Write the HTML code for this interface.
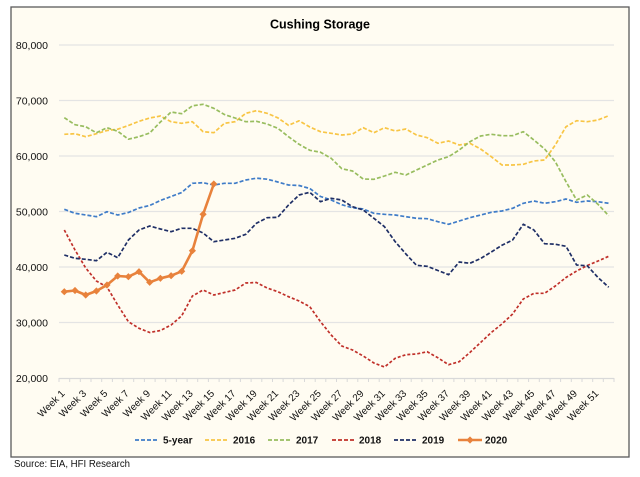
<!DOCTYPE html>
<html><head><meta charset="utf-8"><style>
html,body{margin:0;padding:0;background:#fff;}
svg{display:block;}
text{font-family:"Liberation Sans",sans-serif;}
</style></head><body>
<svg width="640" height="477" viewBox="0 0 640 477" xmlns="http://www.w3.org/2000/svg">
<rect x="0" y="0" width="640" height="477" fill="#fff"/>
<rect x="11" y="7" width="618" height="450" fill="#FFFCF2" stroke="#5a5a5a" stroke-width="1.3"/>
<text x="320" y="28.5" text-anchor="middle" font-size="12.5" font-weight="bold" fill="#000">Cushing Storage</text>
<g stroke="#E4E4E4" stroke-width="1.3">
<line x1="59" y1="45" x2="614" y2="45"/>
<line x1="59" y1="100.5" x2="614" y2="100.5"/>
<line x1="59" y1="156" x2="614" y2="156"/>
<line x1="59" y1="211.5" x2="614" y2="211.5"/>
<line x1="59" y1="267" x2="614" y2="267"/>
<line x1="59" y1="322.5" x2="614" y2="322.5"/>
</g>
<line x1="59" y1="378.5" x2="614" y2="378.5" stroke="#D9D9D9" stroke-width="1.3"/>
<g stroke="#D9D9D9" stroke-width="1">
<path d="M59,378v4M69.7,378v4M80.3,378v4M91,378v4M101.7,378v4M112.4,378v4M123,378v4M133.7,378v4M144.4,378v4M155.1,378v4M165.7,378v4M176.4,378v4M187.1,378v4M197.7,378v4M208.4,378v4M219.1,378v4M229.8,378v4M240.4,378v4M251.1,378v4M261.8,378v4M272.5,378v4M283.1,378v4M293.8,378v4M304.5,378v4M315.2,378v4M325.8,378v4M336.5,378v4M347.2,378v4M357.8,378v4M368.5,378v4M379.2,378v4M389.9,378v4M400.5,378v4M411.2,378v4M421.9,378v4M432.6,378v4M443.2,378v4M453.9,378v4M464.6,378v4M475.3,378v4M485.9,378v4M496.6,378v4M507.3,378v4M517.9,378v4M528.6,378v4M539.3,378v4M550,378v4M560.6,378v4M571.3,378v4M582,378v4M592.7,378v4M603.3,378v4M614,378v4"/>
</g>
<g font-size="10.5" fill="#111" text-anchor="end">
<text x="48" y="49">80,000</text>
<text x="48" y="104.5">70,000</text>
<text x="48" y="160">60,000</text>
<text x="48" y="215.5">50,000</text>
<text x="48" y="271">40,000</text>
<text x="48" y="326.5">30,000</text>
<text x="48" y="382">20,000</text>
</g>
<g font-size="10" fill="#111" text-anchor="end">
<text transform="translate(65.5,394) rotate(-45)">Week 1</text>
<text transform="translate(86.9,394) rotate(-45)">Week 3</text>
<text transform="translate(108.2,394) rotate(-45)">Week 5</text>
<text transform="translate(129.6,394) rotate(-45)">Week 7</text>
<text transform="translate(150.9,394) rotate(-45)">Week 9</text>
<text transform="translate(172.3,394) rotate(-45)">Week 11</text>
<text transform="translate(193.6,394) rotate(-45)">Week 13</text>
<text transform="translate(215,394) rotate(-45)">Week 15</text>
<text transform="translate(236.3,394) rotate(-45)">Week 17</text>
<text transform="translate(257.6,394) rotate(-45)">Week 19</text>
<text transform="translate(279,394) rotate(-45)">Week 21</text>
<text transform="translate(300.3,394) rotate(-45)">Week 23</text>
<text transform="translate(321.7,394) rotate(-45)">Week 25</text>
<text transform="translate(343,394) rotate(-45)">Week 27</text>
<text transform="translate(364.4,394) rotate(-45)">Week 29</text>
<text transform="translate(385.7,394) rotate(-45)">Week 31</text>
<text transform="translate(407.1,394) rotate(-45)">Week 33</text>
<text transform="translate(428.4,394) rotate(-45)">Week 35</text>
<text transform="translate(449.8,394) rotate(-45)">Week 37</text>
<text transform="translate(471.1,394) rotate(-45)">Week 39</text>
<text transform="translate(492.5,394) rotate(-45)">Week 41</text>
<text transform="translate(513.8,394) rotate(-45)">Week 43</text>
<text transform="translate(535.1,394) rotate(-45)">Week 45</text>
<text transform="translate(556.5,394) rotate(-45)">Week 47</text>
<text transform="translate(577.8,394) rotate(-45)">Week 49</text>
<text transform="translate(599.2,394) rotate(-45)">Week 51</text>
</g>
<g fill="none" stroke-width="1.7" stroke-linejoin="round">
<polyline stroke="#3F7CC8" stroke-dasharray="4 2" points="64.3,209.3 75.0,213.3 85.7,215 96.4,216.7 107.0,211.7 117.7,215 128.4,212.5 139.0,208 149.7,205.5 160.4,200.5 171.1,196.5 181.7,192.5 192.4,183.3 203.1,182.7 213.8,185 224.4,183.3 235.1,183.3 245.8,180 256.4,178.2 267.1,179.2 277.8,182 288.5,185 299.1,185.5 309.8,188.5 320.5,196.5 331.2,200 341.8,204.7 352.5,207.7 363.2,209 373.9,213.3 384.5,214.3 395.2,215 405.9,216.7 416.5,218.3 427.2,218.7 437.9,221.7 448.6,224.3 459.2,221 469.9,217.7 480.6,215 491.3,212.3 501.9,211 512.6,208.3 523.3,203.3 533.9,201 544.6,203.3 555.3,201.7 566.0,199 576.6,202.3 587.3,201 598.0,201.7 608.7,203.3"/>
<polyline stroke="#F8C545" stroke-dasharray="4 2" points="64.3,134.3 75.0,133.7 85.7,136.7 96.4,133.7 107.0,130.5 117.7,129.2 128.4,125.5 139.0,121.3 149.7,118 160.4,116 171.1,121.7 181.7,123.3 192.4,121.7 203.1,131.7 213.8,132.7 224.4,123.3 235.1,121.7 245.8,113.3 256.4,110.7 267.1,113.3 277.8,117.8 288.5,125.3 299.1,120.8 309.8,127 320.5,131.7 331.2,133.3 341.8,135 352.5,134 363.2,127.7 373.9,132.7 384.5,127.7 395.2,131 405.9,129 416.5,135 427.2,137.7 437.9,143.3 448.6,141 459.2,145 469.9,143.3 480.6,149 491.3,156.7 501.9,165 512.6,165 523.3,164.3 533.9,161 544.6,160 555.3,145 566.0,126.7 576.6,120.7 587.3,121.7 598.0,120 608.7,115.7"/>
<polyline stroke="#98BD5F" stroke-dasharray="4 2" points="64.3,117.7 75.0,124.7 85.7,126.7 96.4,132.8 107.0,127.7 117.7,131.2 128.4,139.2 139.0,136.7 149.7,133 160.4,122 171.1,112 181.7,113.7 192.4,105.8 203.1,104.3 213.8,108.3 224.4,114.5 235.1,118 245.8,121.7 256.4,121.3 267.1,124 277.8,128.3 288.5,136.7 299.1,144.3 309.8,150.3 320.5,152.2 331.2,158.3 341.8,168.7 352.5,171 363.2,179 373.9,179.3 384.5,176 395.2,172.3 405.9,175 416.5,170 427.2,165 437.9,160 448.6,156.7 459.2,150 469.9,141.7 480.6,136 491.3,134.3 501.9,135.7 512.6,135.7 523.3,131.7 533.9,140 544.6,149 555.3,161.7 566.0,181.7 576.6,200 587.3,195 598.0,204.3 608.7,215.7"/>
<polyline stroke="#C0302A" stroke-dasharray="3 2" points="64.3,230 75.0,250 85.7,268 96.4,281 107.0,287 117.7,305 128.4,321.7 139.0,328.3 149.7,332.5 160.4,330.5 171.1,325 181.7,315.8 192.4,296 203.1,290 213.8,295 224.4,292.5 235.1,290 245.8,283 256.4,282.5 267.1,288 277.8,291.7 288.5,296.7 299.1,301 309.8,306.7 320.5,321.7 331.2,335 341.8,346 352.5,350 363.2,356 373.9,363 384.5,367 395.2,358.3 405.9,354.7 416.5,354 427.2,351.7 437.9,357.8 448.6,364.7 459.2,361.7 469.9,352.5 480.6,342.5 491.3,332.5 501.9,324 512.6,314 523.3,299 533.9,293.3 544.6,293.3 555.3,286 566.0,277.5 576.6,271 587.3,265.5 598.0,261 608.7,256.3"/>
<polyline stroke="#1F2F66" stroke-dasharray="4 2" points="64.3,255 75.0,258.3 85.7,259.3 96.4,260.7 107.0,252.3 117.7,257.7 128.4,240 139.0,230 149.7,226 160.4,229 171.1,231.7 181.7,228.3 192.4,228.3 203.1,233 213.8,241.7 224.4,240 235.1,238.3 245.8,234.3 256.4,223.3 267.1,217.7 277.8,217.3 288.5,205 299.1,195 309.8,192.3 320.5,201.7 331.2,198.3 341.8,200 352.5,206.7 363.2,210 373.9,218.3 384.5,226.7 395.2,241.7 405.9,254 416.5,265.3 427.2,266.3 437.9,270.5 448.6,274.7 459.2,262 469.9,263.3 480.6,258.5 491.3,252 501.9,245.3 512.6,240 523.3,224.3 533.9,230 544.6,243.7 555.3,244.2 566.0,246.3 576.6,265 587.3,265.8 598.0,277.5 608.7,287.2"/>
<polyline stroke="#E8823C" stroke-width="2.6" points="64.3,291.7 75.0,290.5 85.7,295 96.4,291 107.0,285 117.7,276 128.4,276.7 139.0,271.7 149.7,282.3 160.4,278.3 171.1,275.7 181.7,271.3 192.4,250.7 203.1,214.3 213.8,184"/>
</g>
<defs><path id="dm" d="M0,-3.6L3.6,0L0,3.6L-3.6,0Z" fill="#E8823C"/></defs>
<use href="#dm" x="64.3" y="291.7"/><use href="#dm" x="75.0" y="290.5"/><use href="#dm" x="85.7" y="295"/><use href="#dm" x="96.4" y="291"/><use href="#dm" x="107.0" y="285"/><use href="#dm" x="117.7" y="276"/><use href="#dm" x="128.4" y="276.7"/><use href="#dm" x="139.0" y="271.7"/><use href="#dm" x="149.7" y="282.3"/><use href="#dm" x="160.4" y="278.3"/><use href="#dm" x="171.1" y="275.7"/><use href="#dm" x="181.7" y="271.3"/><use href="#dm" x="192.4" y="250.7"/><use href="#dm" x="203.1" y="214.3"/><use href="#dm" x="213.8" y="184"/>
<g stroke-width="1.7">
<line x1="135" y1="440" x2="158" y2="440" stroke="#3F7CC8" stroke-dasharray="4 2"/>
<line x1="205" y1="440" x2="228" y2="440" stroke="#F8C545" stroke-dasharray="4 2"/>
<line x1="268" y1="440" x2="291" y2="440" stroke="#98BD5F" stroke-dasharray="4 2"/>
<line x1="332" y1="440" x2="355" y2="440" stroke="#C0302A" stroke-dasharray="4 2"/>
<line x1="394" y1="440" x2="417" y2="440" stroke="#1F2F66" stroke-dasharray="4 2"/>
<line x1="458" y1="440" x2="482" y2="440" stroke="#E8823C" stroke-width="2.6"/>
</g>
<use href="#dm" x="470" y="440"/>
<g font-size="10" font-weight="bold" fill="#111">
<text x="163" y="443.5">5-year</text>
<text x="233" y="443.5">2016</text>
<text x="296" y="443.5">2017</text>
<text x="359" y="443.5">2018</text>
<text x="422" y="443.5">2019</text>
<text x="485" y="443.5">2020</text>
</g>
<text x="14" y="467" font-size="10.5" fill="#111" textLength="116" lengthAdjust="spacingAndGlyphs">Source: EIA, HFI Research</text>
</svg>
</body></html>
